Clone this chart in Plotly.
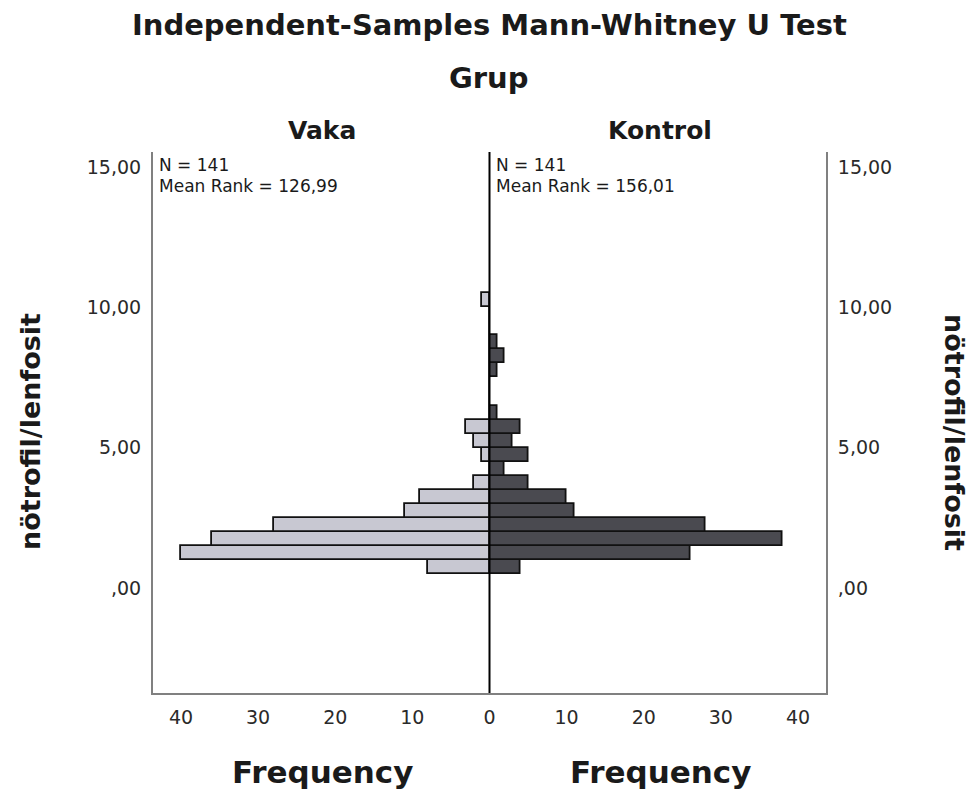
import plotly.graph_objects as go

# Histogram bins of nötrofil/lenfosit (lower edge of each 0.5-wide bin)
bin_lower = [0.5, 1.0, 1.5, 2.0, 2.5, 3.0, 3.5, 4.0, 4.5, 5.0,
             5.5, 6.0, 6.5, 7.0, 7.5, 8.0, 8.5, 9.0, 9.5, 10.0]
bin_width = 0.5

# Frequencies per group
vaka_counts = [8, 40, 36, 28, 11, 9, 2, 0, 1, 2,
               3, 0, 0, 0, 0, 0, 0, 0, 0, 1]
kontrol_counts = [4, 26, 38, 28, 11, 10, 5, 2, 5, 3,
                  4, 1, 0, 0, 1, 2, 1, 0, 0, 0]

groups = ["Vaka", "Kontrol"]
group_n = [141, 141]
mean_ranks = ["126,99", "156,01"]

y_ticks = [0, 5, 10, 15]
y_tick_text = [",00", "5,00", "10,00", "15,00"]
freq_ticks = [0, 10, 20, 30, 40]

bin_centers = [b + bin_width / 2 for b in bin_lower]

W, H = 975, 795
L, R, T, B = 153, 149, 152, 102
plot_w = W - L - R
plot_h = H - T - B


def px(x):
    return (x - L) / plot_w


def py(y):
    return (H - B - y) / plot_h


BOLD = "DejaVu Sans"
TXT = "#1a1a1a"
AXIS_GREY = "#808080"

fig = go.Figure()

fig.add_trace(go.Bar(
    x=vaka_counts, y=bin_centers, width=bin_width, orientation="h",
    marker=dict(color="#c8c8d2", line=dict(color="#111111", width=1.8)),
    xaxis="x", yaxis="y", name=groups[0], showlegend=False,
))
fig.add_trace(go.Bar(
    x=kontrol_counts, y=bin_centers, width=bin_width, orientation="h",
    marker=dict(color="#4a4a50", line=dict(color="#111111", width=1.8)),
    xaxis="x2", yaxis="y2", name=groups[1], showlegend=False,
))

x_range = 43.63
y_range = [-3.74, 15.53]
tick_font = dict(family="DejaVu Sans", size=19, color="#2a2a2a")

axis_common = dict(showgrid=False, zeroline=False, showline=True,
                   linecolor=AXIS_GREY, linewidth=2, ticks="",
                   tickfont=tick_font, fixedrange=True)

fig.update_layout(
    width=W, height=H,
    margin=dict(l=L, r=R, t=T, b=B, pad=0),
    paper_bgcolor="white", plot_bgcolor="white",
    bargap=0,
    xaxis=dict(domain=[0, 0.5], range=[x_range, 0], anchor="y",
               tickvals=freq_ticks, ticktext=[str(v) for v in freq_ticks],
               ticklabelstandoff=6, **axis_common),
    xaxis2=dict(domain=[0.5, 1], range=[0, x_range], anchor="y2",
                tickvals=freq_ticks[1:], ticktext=[str(v) for v in freq_ticks[1:]],
                ticklabelstandoff=6, **axis_common),
    yaxis=dict(domain=[0, 1], range=y_range, anchor="x", side="left",
               tickvals=y_ticks, ticktext=y_tick_text,
               ticklabelstandoff=6, **axis_common),
    yaxis2=dict(domain=[0, 1], range=y_range, anchor="x2", side="right",
                matches="y",
                tickvals=y_ticks, ticktext=y_tick_text,
                ticklabelstandoff=6, **axis_common),
)

# Central zero line separating the two groups (paper-referenced so it is not clipped)
fig.add_shape(type="line", xref="paper", yref="paper", x0=0.5, x1=0.5, y0=0, y1=1,
              layer="above", line=dict(color="black", width=2))

ann = []
ann.append(dict(text="Independent-Samples Mann-Whitney U Test",
                x=px(489), y=py(25), font=dict(family=BOLD, size=29, color=TXT, weight="bold")))
ann.append(dict(text="Grup", x=px(489), y=py(78),
                font=dict(family=BOLD, size=29, color=TXT, weight="bold")))
for gx, g in zip([322, 660], groups):
    ann.append(dict(text=g, x=px(gx), y=py(131),
                    font=dict(family=BOLD, size=25, color=TXT, weight="bold")))
    ann.append(dict(text="Frequency", x=px(gx), y=py(772),
                    font=dict(family=BOLD, size=31, color=TXT, weight="bold")))

ann.append(dict(text="nötrofil/lenfosit", x=px(30), y=py(432), textangle=-90,
                font=dict(family=BOLD, size=27, color=TXT, weight="bold")))
ann.append(dict(text="nötrofil/lenfosit", x=px(955), y=py(432), textangle=90,
                font=dict(family=BOLD, size=27, color=TXT, weight="bold")))

for sx, n, mr in zip([157, 494], group_n, mean_ranks):
    ann.append(dict(text=f"N = {n}", x=px(sx), y=py(165), xanchor="left",
                    font=dict(family="DejaVu Sans", size=17, color=TXT)))
    ann.append(dict(text=f"Mean Rank = {mr}", x=px(sx), y=py(186), xanchor="left",
                    font=dict(family="DejaVu Sans", size=17, color=TXT)))

for a in ann:
    a.setdefault("xanchor", "center")
    a.update(xref="paper", yref="paper", yanchor="middle", showarrow=False)
fig.update_layout(annotations=ann)

fig.write_html("out.html")
